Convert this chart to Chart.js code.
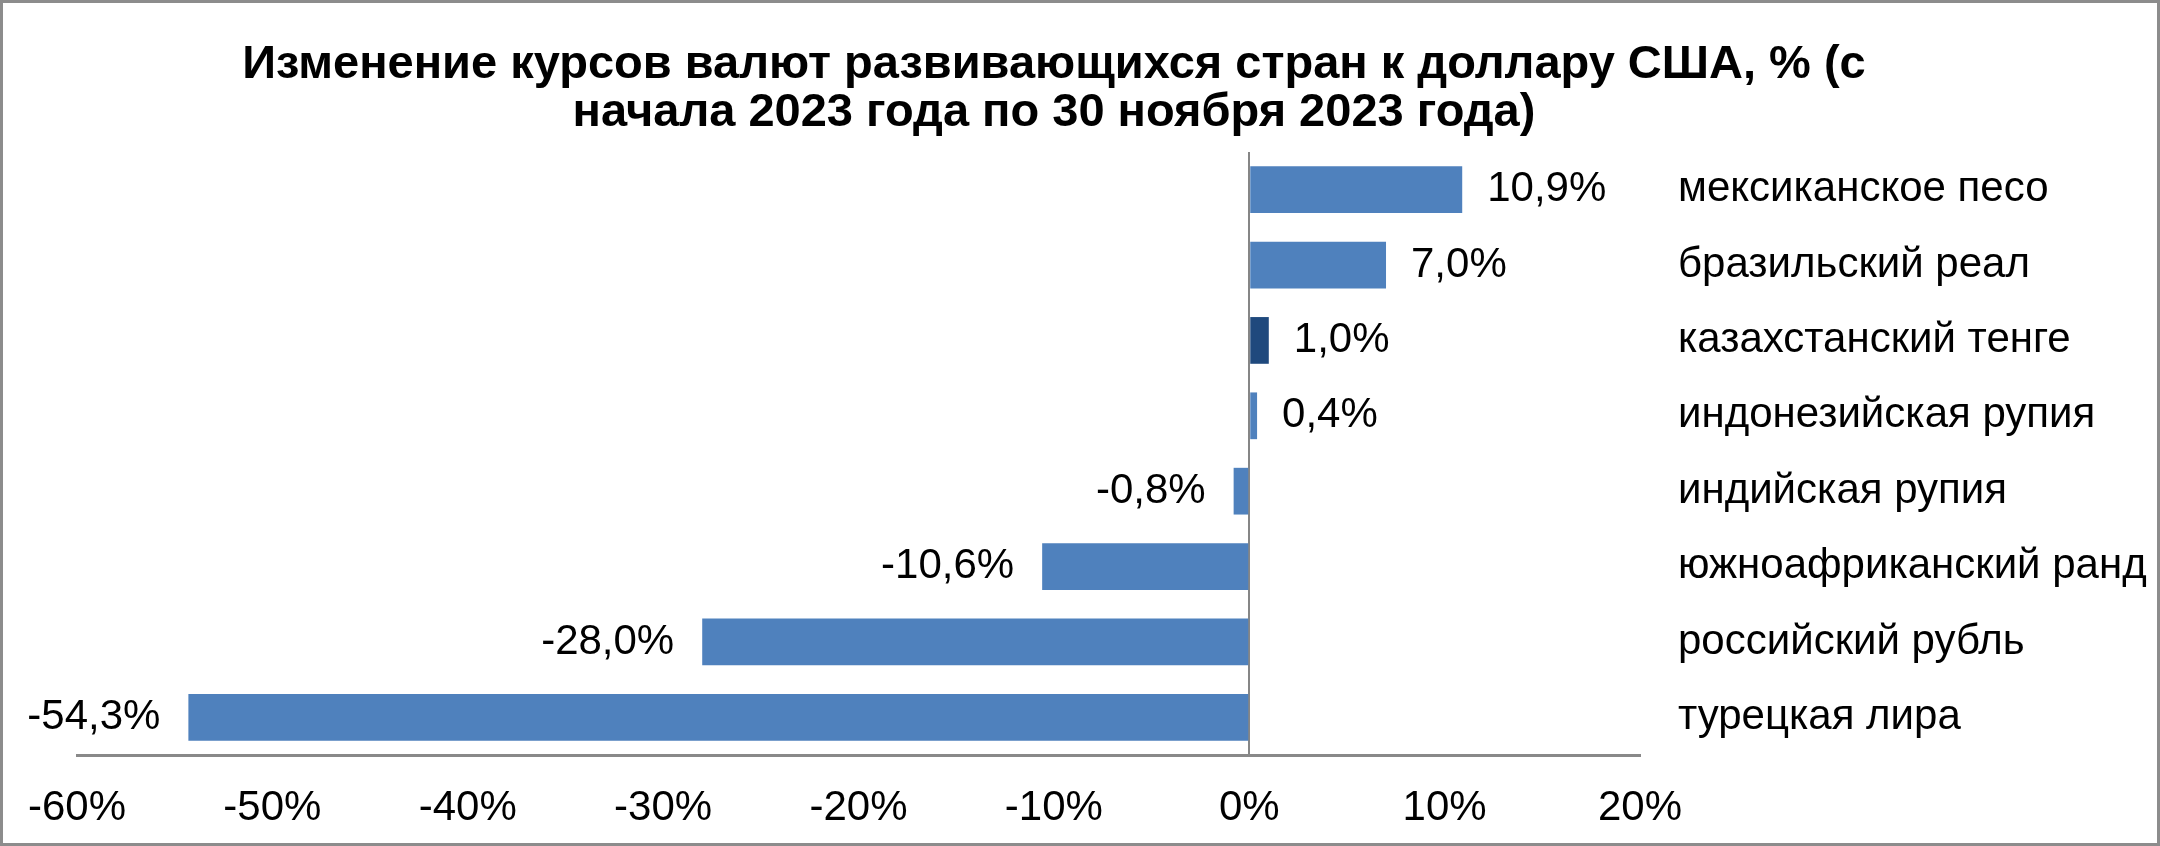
<!DOCTYPE html>
<html>
<head>
<meta charset="utf-8">
<script src="https://cdn.jsdelivr.net/npm/chart.js@4.4.0/dist/chart.umd.min.js"></script>
<style>
  html, body { margin: 0; padding: 0; background: #fff; }
  canvas { display: block; }
</style>
</head>
<body>
<canvas id="fxChart" width="2160" height="846"></canvas>
<script>
const currencies = [
  'мексиканское песо',
  'бразильский реал',
  'казахстанский тенге',
  'индонезийская рупия',
  'индийская рупия',
  'южноафриканский ранд',
  'российский рубль',
  'турецкая лира'
];
const changes = [10.9, 7.0, 1.0, 0.4, -0.8, -10.6, -28.0, -54.3];
const xTicks = [-60, -50, -40, -30, -20, -10, 0, 10, 20];
const highlighted = 'казахстанский тенге';

const titleLines = [
  'Изменение курсов валют развивающихся стран к доллару США, % (с',
  'начала 2023 года по 30 ноября 2023 года)'
];

const fontFamily = "'Liberation Sans', Arial, sans-serif";
const fmt = v => v.toFixed(1).replace('.', ',') + '%';

// white background + grey frame, and pull the title centre a bit left like the original
const frame = {
  id: 'frame',
  afterLayout(chart) {
    if (chart.titleBlock) chart.titleBlock.right -= 124;
  },
  beforeDraw(chart) {
    const c = chart.ctx;
    c.save();
    c.fillStyle = '#fff';
    c.fillRect(0, 0, chart.width, chart.height);
    c.strokeStyle = '#8c8c8c';
    c.lineWidth = 3;
    c.strokeRect(1.5, 1.5, chart.width - 3, chart.height - 3);
    c.restore();
  }
};

// value labels next to bar ends
const valueLabels = {
  id: 'valueLabels',
  afterDatasetsDraw(chart) {
    const c = chart.ctx;
    const meta = chart.getDatasetMeta(0);
    c.save();
    c.font = '42px ' + fontFamily;
    c.fillStyle = '#000';
    c.textBaseline = 'middle';
    meta.data.forEach((bar, i) => {
      const v = changes[i];
      if (v >= 0) {
        c.textAlign = 'left';
        c.fillText(fmt(v), bar.x + 25, bar.y);
      } else {
        c.textAlign = 'right';
        c.fillText(fmt(v), bar.x - 28, bar.y);
      }
    });
    c.restore();
  }
};

new Chart(document.getElementById('fxChart'), {
  type: 'bar',
  data: {
    labels: currencies,
    datasets: [{
      data: changes,
      backgroundColor: ctx => currencies[ctx.dataIndex] === highlighted ? '#1f497d' : '#4f81bd',
      barPercentage: 0.62,
      categoryPercentage: 1.0
    }]
  },
  options: {
    indexAxis: 'y',
    responsive: false,
    animation: false,
    devicePixelRatio: 1,
    layout: { padding: { left: 72, right: 0, top: 0, bottom: 0 } },
    plugins: {
      legend: { display: false },
      tooltip: { enabled: false },
      title: {
        display: true,
        text: titleLines,
        color: '#000',
        font: { family: fontFamily, size: 47, weight: 'bold', lineHeight: 1.021 },
        padding: { top: 41, bottom: 15 }
      }
    },
    scales: {
      x: {
        min: xTicks[0],
        max: xTicks[xTicks.length - 1],
        afterBuildTicks: scale => { scale.ticks = xTicks.map(v => ({ value: v })); },
        afterFit: scale => { scale.height = 91; },
        border: { display: true, color: '#898989', width: 3 },
        grid: {
          drawTicks: false,
          color: ctx => (ctx.tick && ctx.tick.value === 0) ? '#868686' : 'rgba(0,0,0,0)',
          lineWidth: 2
        },
        ticks: {
          color: '#000',
          padding: 28,
          font: { family: fontFamily, size: 42 },
          callback: v => v + '%'
        }
      },
      y: {
        position: 'right',
        afterFit: scale => { scale.width = 520; },
        border: { display: false },
        grid: { display: false, drawTicks: false },
        ticks: {
          color: '#000',
          padding: 38,
          crossAlign: 'near',
          font: { family: fontFamily, size: 42 }
        }
      }
    }
  },
  plugins: [frame, valueLabels]
});
</script>
</body>
</html>
